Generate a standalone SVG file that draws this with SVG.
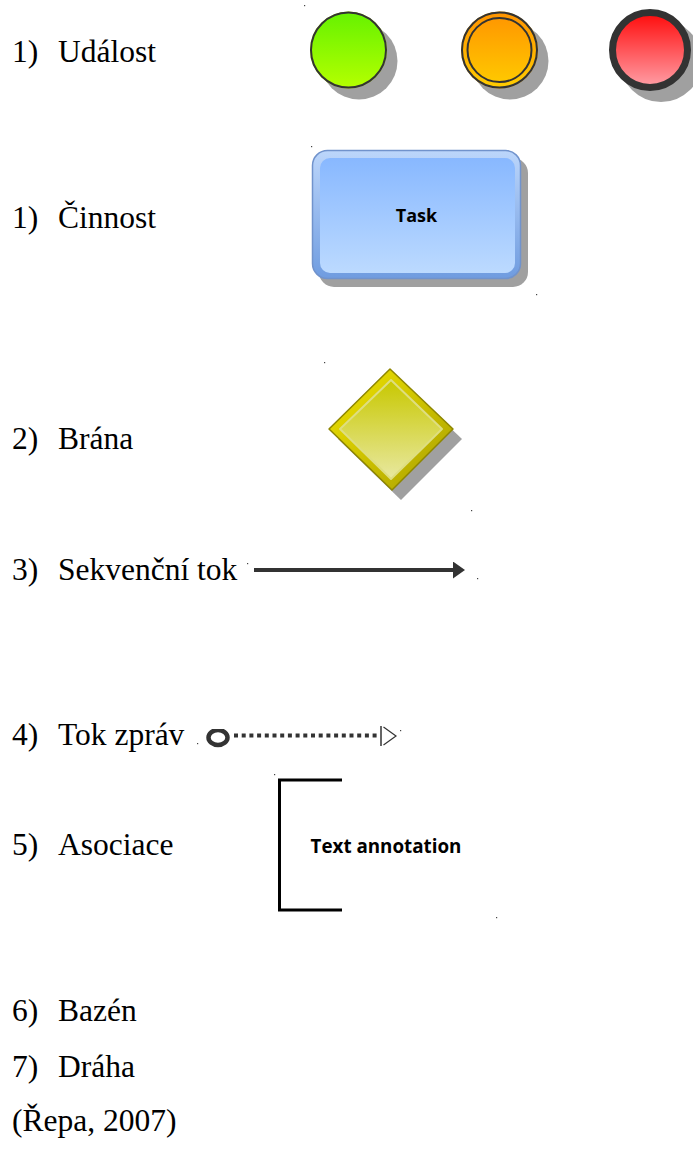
<svg xmlns="http://www.w3.org/2000/svg" width="693" height="1161" viewBox="0 0 693 1161">
  <style>
    .lbl { font-family: "Liberation Serif", "Times New Roman", serif; font-size: 31.5px; fill: #000; }
    .bold { font-family: "Open Sans", "Liberation Sans", sans-serif; font-weight: 700; fill: #000; }
    .shadow { fill: #a0a0a0; }
    .ev { stroke: #333; stroke-width: 2; }
    .speck { fill: #444; }
  </style>
  <defs>
    <linearGradient id="gGreen" x1="0" y1="0" x2="0" y2="1">
      <stop offset="0" stop-color="#66f200"/>
      <stop offset="1" stop-color="#b4ff00"/>
    </linearGradient>
    <linearGradient id="gOrange" x1="0" y1="0" x2="0" y2="1">
      <stop offset="0" stop-color="#ff9400"/>
      <stop offset="1" stop-color="#ffcc00"/>
    </linearGradient>
    <linearGradient id="gRed" x1="0" y1="0" x2="0" y2="1">
      <stop offset="0" stop-color="#ff0a0a"/>
      <stop offset="1" stop-color="#ffa0a8"/>
    </linearGradient>
    <linearGradient id="gTaskRim" x1="0" y1="0" x2="0" y2="1">
      <stop offset="0" stop-color="#bcd6fb"/>
      <stop offset="1" stop-color="#6f9ce0"/>
    </linearGradient>
    <linearGradient id="gTask" x1="0" y1="0" x2="0" y2="1">
      <stop offset="0" stop-color="#88b8ff"/>
      <stop offset="1" stop-color="#bcdaff"/>
    </linearGradient>
    <linearGradient id="gGateRim" x1="0" y1="0" x2="1" y2="1">
      <stop offset="0" stop-color="#f2e600"/>
      <stop offset="1" stop-color="#a89e00"/>
    </linearGradient>
    <linearGradient id="gGate" x1="0" y1="0" x2="0" y2="1">
      <stop offset="0" stop-color="#c8c800"/>
      <stop offset="1" stop-color="#e8e8a0"/>
    </linearGradient>
    <marker id="seqHead" viewBox="0 0 12 17" refX="1" refY="8.5" markerWidth="12" markerHeight="17" markerUnits="userSpaceOnUse" orient="auto">
      <path d="M0,0 L12,8.5 L0,17 Z" fill="#333"/>
    </marker>
    <clipPath id="msgClip">
      <rect x="200" y="729" width="40" height="22"/>
    </clipPath>
  </defs>

  <!-- left-hand labels -->
  <g id="labels">
    <text class="lbl" x="12" y="62">1)</text><text class="lbl" x="58" y="62">Událost</text>
    <text class="lbl" x="12" y="228">1)</text><text class="lbl" x="58" y="228">Činnost</text>
    <text class="lbl" x="12" y="449">2)</text><text class="lbl" x="58" y="449">Brána</text>
    <text class="lbl" x="12" y="580">3)</text><text class="lbl" x="58" y="580">Sekvenční tok</text>
    <text class="lbl" x="12" y="745">4)</text><text class="lbl" x="58" y="745">Tok zpráv</text>
    <text class="lbl" x="12" y="855">5)</text><text class="lbl" x="58" y="855">Asociace</text>
    <text class="lbl" x="12" y="1021">6)</text><text class="lbl" x="58" y="1021">Bazén</text>
    <text class="lbl" x="12" y="1077">7)</text><text class="lbl" x="58" y="1077">Dráha</text>
    <text class="lbl" x="12" y="1131">(Řepa, 2007)</text>
  </g>

  <!-- events -->
  <g id="event-start">
    <circle class="shadow" cx="359" cy="61" r="38.5"/>
    <circle cx="348.5" cy="50" r="38.5" fill="#b8f000"/>
    <circle class="ev" cx="348.5" cy="50" r="37.5" fill="url(#gGreen)"/>
  </g>
  <g id="event-intermediate">
    <circle class="shadow" cx="510" cy="61" r="38.5"/>
    <circle cx="499.5" cy="50" r="38.5" fill="#ffb000"/>
    <circle class="ev" cx="499.5" cy="50" r="37.5" fill="url(#gOrange)"/>
    <circle class="ev" cx="499.5" cy="50" r="32" fill="none"/>
  </g>
  <g id="event-end">
    <circle class="shadow" cx="661" cy="61" r="41"/>
    <circle cx="650" cy="50" r="37.5" fill="url(#gRed)" stroke="#333" stroke-width="7"/>
  </g>

  <!-- task -->
  <g id="task">
    <rect class="shadow" x="319" y="158" width="209" height="129" rx="15"/>
    <rect x="312.5" y="150.5" width="208" height="128" rx="15" fill="url(#gTaskRim)" stroke="#7193cc" stroke-width="1.5"/>
    <rect x="320" y="158" width="195" height="115" rx="10" fill="url(#gTask)"/>
    <text class="bold" x="416.5" y="222" font-size="18" text-anchor="middle">Task</text>
  </g>

  <!-- gateway -->
  <g id="gateway">
    <polygon class="shadow" points="399,379 462,439 401,500 338,439"/>
    <polygon points="390,369 453,429 392,490 329,429" fill="url(#gGateRim)" stroke="#8e8600" stroke-width="1.5" stroke-linejoin="round"/>
    <polygon points="391,380 442,429 391,479 340,429" fill="url(#gGate)" stroke="#dede80" stroke-width="2" stroke-linejoin="round"/>
  </g>

  <!-- text annotation -->
  <g id="annotation">
    <path d="M342,780 H279.5 V910 H342" fill="none" stroke="#000" stroke-width="3"/>
    <text class="bold" x="386" y="852.5" font-size="18.8" text-anchor="middle">Text annotation</text>
  </g>

  <!-- connectors -->
  <g id="connectors">
    <line id="sequence-flow" x1="254" y1="570" x2="454" y2="570" stroke="#333" stroke-width="4.2" marker-end="url(#seqHead)"/>
    <g id="message-flow">
      <ellipse cx="218" cy="737.5" rx="9.5" ry="7.5" fill="none" stroke="#333" stroke-width="4.5" clip-path="url(#msgClip)"/>
      <line x1="234" y1="735.5" x2="380" y2="735.5" stroke="#333" stroke-width="4" stroke-dasharray="4 3.7"/>
      <line x1="381" y1="726" x2="381" y2="746" stroke="#333" stroke-width="1.5"/>
      <polyline points="383.5,727 396,736 383.5,745" fill="none" stroke="#333" stroke-width="1.2"/>
    </g>
  </g>

  <!-- anchor specks -->
  <g id="specks">
    <rect class="speck" x="304" y="5" width="1.2" height="1.2"/>
    <rect class="speck" x="311" y="146" width="1.2" height="1.2"/>
    <rect class="speck" x="536" y="294" width="1.2" height="1.2"/>
    <rect class="speck" x="324" y="362" width="1.2" height="1.2"/>
    <rect class="speck" x="471" y="510" width="1.2" height="1.2"/>
    <rect class="speck" x="247" y="563" width="1.2" height="1.2"/>
    <rect class="speck" x="477" y="578" width="1.2" height="1.2"/>
    <rect class="speck" x="197" y="743" width="1.2" height="1.2"/>
    <rect class="speck" x="400" y="730" width="1.2" height="1.2"/>
    <rect class="speck" x="274" y="774" width="1.2" height="1.2"/>
    <rect class="speck" x="496" y="917" width="1.2" height="1.2"/>
  </g>
</svg>
